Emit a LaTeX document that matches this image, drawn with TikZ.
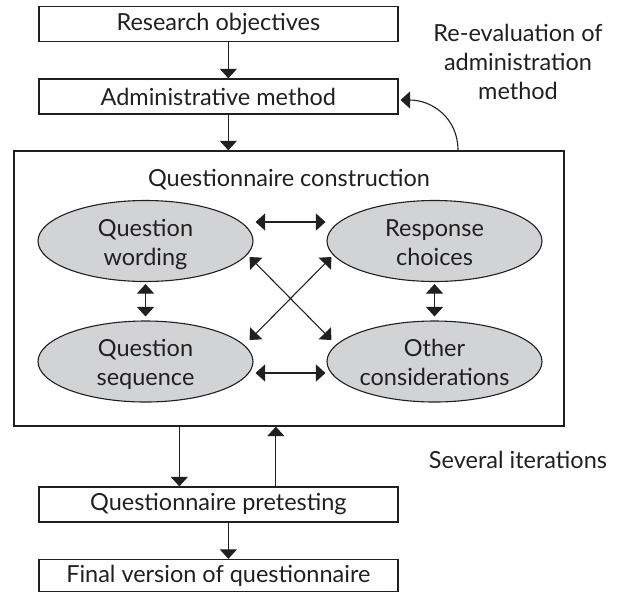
\documentclass[tikz,border=0pt]{standalone}
\usepackage{fontspec}
\setmainfont{Lato}
\usetikzlibrary{arrows.meta,shapes.geometric}
\definecolor{ink}{HTML}{231F20}
\definecolor{ellfill}{HTML}{D1D3D4}
\begin{document}
\begin{tikzpicture}[x=1pt,y=-1pt,
  every node/.style={text=ink, font=\fontsize{23.5}{29}\selectfont},
  box/.style={draw=ink, line width=1.3pt, minimum width=359pt, minimum height=35pt, inner sep=0pt},
  oval/.style={ellipse, draw=ink, fill=ellfill, line width=1.1pt, minimum width=215pt, minimum height=81pt, inner sep=0pt},
  lbl/.style={align=center, inner sep=0pt},
  tipA/.tip={Triangle[length=9.5pt,width=17pt]},
  arr/.style={draw=ink, line width=1.1pt, -tipA},
  darr/.style={draw=ink, line width=1.1pt, tipA-tipA},
]
\useasboundingbox (0,0) rectangle (617,592);
% boxes
\node[box] (ro) at (218.35,24) {Research objectives};
\node[box] (adm) at (218.35,96.5) {Administrative method};
\node[draw=ink, line width=1.3pt, minimum width=550pt, minimum height=275pt, inner sep=0pt] (big) at (289,288.5) {};
\node[box] (pre) at (218.35,504.5) {Questionnaire pretesting};
\node[box, minimum height=32pt] (fin) at (218.35,575.5) {Final version of questionnaire};
% texts
\node (qc) at (289,180) {Questionnaire construction};
\node[align=center] (reev) at (518,62) {Re-evaluation of\\administration\\method};
\node (sev) at (518,460) {Several iterations};
% ellipses
\node[oval] (qw) at (145.5,241) {};
\node[oval] (rc) at (434.5,241) {};
\node[oval] (qs) at (145.5,361.5) {};
\node[oval] (oc) at (434.5,361.5) {};
\node[lbl] (qwt) at ([yshift=-3.7pt]qw.center) {\strut Question\\\strut wording};
\node[lbl] (rct) at ([yshift=-3.7pt]rc.center) {\strut Response\\\strut choices};
\node[lbl] (qst) at ([yshift=-3.7pt]qs.center) {\strut Question\\\strut sequence};
\node[lbl] (oct) at ([yshift=-3.7pt]oc.center) {\strut Other\\\strut considerations};
% main flow
\draw[arr] ([xshift=10pt]ro.south) -- ([xshift=10pt]adm.north);
\draw[arr] ([xshift=10pt]adm.south) -- ([xshift=10pt]adm.south |- big.north);
\draw[arr] ([xshift=-39pt]pre.north |- big.south) -- ([xshift=-39pt]pre.north);
\draw[arr] ([xshift=57.5pt]pre.north) -- ([xshift=57.5pt]pre.north |- big.south);
\draw[arr] ([xshift=10pt]pre.south) -- ([xshift=10pt]fin.north);
\draw[arr] ([xshift=169pt]big.north) .. controls +(0,-32) and +(32,0) .. ([shift={(2,3.5)}]adm.east);
% internal arrows
\draw[darr] ([shift={(2,-19)}]qw.east) -- ([shift={(-1,-19)}]rc.west);
\draw[darr] ([shift={(2,11.5)}]qs.east) -- ([shift={(-1,11.5)}]oc.west);
\draw[darr] ([shift={(0,2)}]qw.south) -- ([shift={(0,-4)}]qs.north);
\draw[darr] ([shift={(0,2)}]rc.south) -- ([shift={(0,-4)}]oc.north);
\draw[darr] ([shift={(-4,16)}]qw.east) -- ([shift={(5,-21.5)}]oc.west);
\draw[darr] ([shift={(5,16)}]rc.west) -- ([shift={(-4,-21.5)}]qs.east);
\end{tikzpicture}
\end{document}
